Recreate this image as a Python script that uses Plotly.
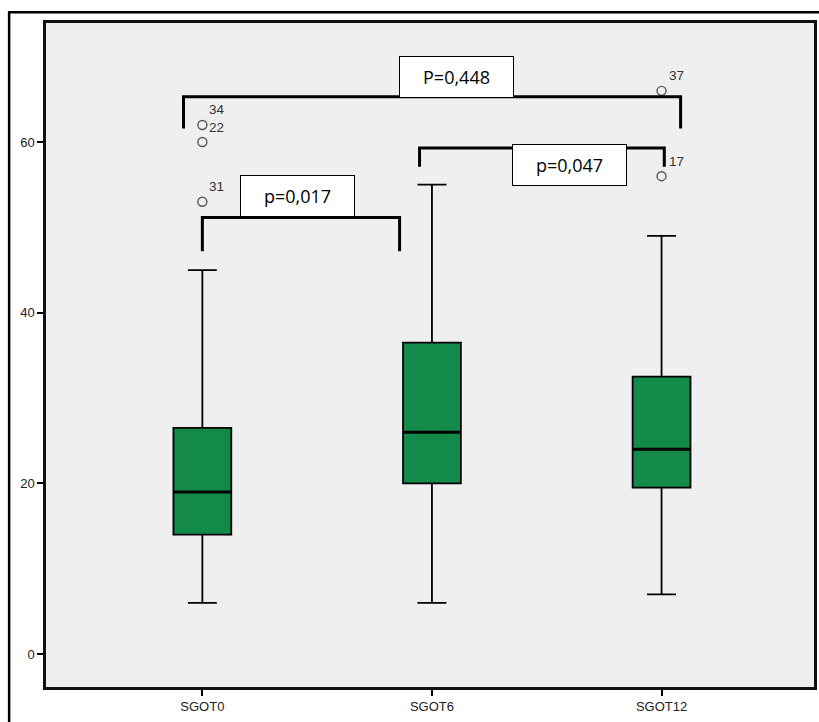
import plotly.graph_objects as go

# ---- data ----
categories = ["SGOT0", "SGOT6", "SGOT12"]
x_pos = [0, 1, 2]
lower_whisker = [6, 6, 7]
q1 = [14, 20, 19.5]
median = [19, 26, 24]
q3 = [26.5, 36.5, 32.5]
upper_whisker = [45, 55, 49]

outlier_x = [0, 0, 0, 2, 2]
outlier_y = [53, 60, 62, 56, 66]
outlier_ids = ["31", "22", "34", "17", "37"]

y_ticks = [0, 20, 40, 60]

# bracket: left x, right x, bar y, leg bottom
bracket_left = [-0.082, 0.0, 0.946]
bracket_right = [2.083, 0.859, 2.012]
bracket_y = [65.3, 51.15, 59.3]
bracket_leg = [61.6, 47.2, 57.1]
p_labels = ["P=0,448", "p=0,017", "p=0,047"]
p_label_x = [1.108, 0.414, 1.598]
p_label_y = [67.67, 53.67, 57.3]

box_width = 0.252
green = "#138a4a"

fig = go.Figure()

fig.add_trace(go.Box(
    x=x_pos, q1=q1, median=median, q3=q3,
    lowerfence=lower_whisker, upperfence=upper_whisker,
    width=box_width, whiskerwidth=0.5,
    fillcolor=green, line=dict(color="black", width=1.8),
    boxpoints=False, showlegend=False, hoverinfo="skip",
))

# thicker median lines
mx, my = [], []
for xp, m in zip(x_pos, median):
    mx += [xp - box_width / 2, xp + box_width / 2, None]
    my += [m, m, None]
fig.add_trace(go.Scatter(x=mx, y=my, mode="lines",
                         line=dict(color="black", width=3),
                         showlegend=False, hoverinfo="skip"))

# outliers
fig.add_trace(go.Scatter(
    x=outlier_x, y=outlier_y, mode="markers",
    marker=dict(symbol="circle-open", size=9, color="#555", line=dict(width=1.4)),
    showlegend=False, hoverinfo="skip",
))

# brackets
bx, by = [], []
for l, r, yb, leg in zip(bracket_left, bracket_right, bracket_y, bracket_leg):
    bx += [l, l, r, r, None]
    by += [leg, yb, yb, leg, None]
fig.add_trace(go.Scatter(x=bx, y=by, mode="lines",
                         line=dict(color="black", width=3),
                         showlegend=False, hoverinfo="skip"))

annotations = []
for t, ax, ay in zip(p_labels, p_label_x, p_label_y):
    annotations.append(dict(
        x=ax, y=ay, xref="x", yref="y", text=t, showarrow=False,
        font=dict(family="Open Sans, Noto Sans, Arial", size=18, color="black"),
        bgcolor="white", bordercolor="black", borderwidth=1, borderpad=1,
        width=111, height=38, xanchor="center", yanchor="middle",
    ))
for ox, oy, oid in zip(outlier_x, outlier_y, outlier_ids):
    annotations.append(dict(
        x=ox, y=oy, xref="x", yref="y", text=oid, showarrow=False,
        xanchor="left", yanchor="middle", xshift=5, yshift=15,
        font=dict(family="Liberation Sans, Arial", size=13.5, color="#333"),
    ))

shapes = [
    # outer frame
    dict(type="rect", xref="paper", yref="paper",
         x0=-0.048, x1=1.06, y0=-0.1, y1=1.0161,
         line=dict(color="black", width=2.5), fillcolor="rgba(0,0,0,0)", layer="below"),
]

axis_font = dict(family="Liberation Sans, Arial", size=13, color="#222")

fig.update_layout(
    width=819, height=722,
    margin=dict(l=46, r=2, t=23, b=35, pad=0),
    paper_bgcolor="white", plot_bgcolor="#efefef",
    annotations=annotations, shapes=shapes,
    xaxis=dict(
        range=[-0.681, 2.664], tickvals=x_pos, ticktext=categories,
        showgrid=False, zeroline=False, ticks="outside", ticklen=6,
        tickcolor="black", tickwidth=1.5,
        showline=True, linecolor="#111", linewidth=2.5, mirror=True,
        tickfont=axis_font,
    ),
    yaxis=dict(
        range=[-3.86, 73.95], tickvals=y_ticks,
        showgrid=False, zeroline=False, ticks="outside", ticklen=6,
        tickcolor="black", tickwidth=1.5,
        showline=True, linecolor="#111", linewidth=2.5, mirror=True,
        tickfont=axis_font,
    ),
)

fig.write_html("out.html", config={"displayModeBar": False},
               post_script="document.body.style.margin='0';document.body.style.overflow='hidden';")
